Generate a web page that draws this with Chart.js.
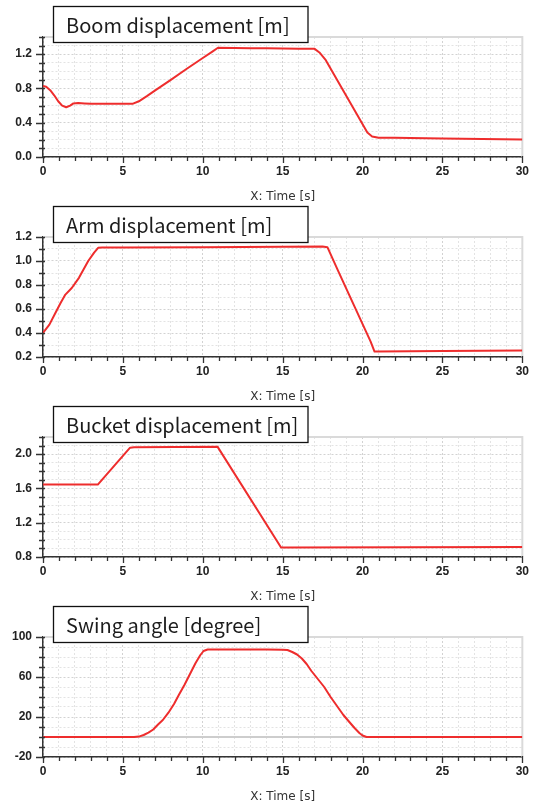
<!DOCTYPE html>
<html><head><meta charset="utf-8">
<script src="https://cdn.jsdelivr.net/npm/chart.js@4.4.1/dist/chart.umd.min.js"></script>
<style>
html,body{margin:0;padding:0;background:#fff;overflow:hidden;width:536px;height:805px;position:relative}
.p{position:absolute;left:0;width:536px;height:210px}
canvas{display:block}
</style></head><body>
<div class="p" style="top:0"><canvas id="c0" width="536" height="210"></canvas></div>
<div class="p" style="top:200px"><canvas id="c1" width="536" height="210"></canvas></div>
<div class="p" style="top:400px"><canvas id="c2" width="536" height="210"></canvas></div>
<div class="p" style="top:600px"><canvas id="c3" width="536" height="210"></canvas></div>
<script>
// ---- data ----
const panelTitles = ["Boom displacement [m]", "Arm displacement [m]", "Bucket displacement [m]", "Swing angle [degree]"];
const xAxisTitle = "X: Time [s]";

const boomTime  = [0, 0.2, 0.45, 0.7, 0.95, 1.2, 1.45, 1.7, 1.9, 2.2, 2.6, 3, 4, 5, 5.6, 6.0, 6.5, 7, 8, 9, 10, 10.6, 10.95, 12, 13, 14, 15, 16, 17, 17.3, 17.7, 18.5, 19.5, 20.3, 20.6, 21, 22, 25, 30];
const boomValue = [0.83, 0.82, 0.78, 0.72, 0.65, 0.60, 0.58, 0.60, 0.625, 0.63, 0.625, 0.62, 0.62, 0.62, 0.62, 0.65, 0.71, 0.774, 0.90, 1.03, 1.155, 1.23, 1.275, 1.272, 1.27, 1.268, 1.266, 1.264, 1.262, 1.22, 1.13, 0.87, 0.545, 0.285, 0.24, 0.225, 0.224, 0.215, 0.205];

const armTime  = [0, 0.4, 0.75, 1.1, 1.4, 1.8, 2.25, 2.83, 3.2, 3.45, 3.7, 5, 10, 15, 17.5, 17.8, 18.5, 19.5, 20.5, 20.75, 21, 25, 30];
const armValue = [0.40, 0.47, 0.56, 0.65, 0.72, 0.775, 0.86, 1.0, 1.07, 1.11, 1.112, 1.112, 1.114, 1.118, 1.12, 1.115, 0.91, 0.62, 0.33, 0.245, 0.245, 0.25, 0.255];

const bucketTime  = [0, 3.43, 5.45, 5.7, 10.93, 14.9, 15.2, 30];
const bucketValue = [1.645, 1.645, 2.075, 2.08, 2.085, 0.91, 0.91, 0.918];

const swingTime  = [0, 5, 5.7, 6.0, 6.3, 6.6, 6.9, 7.2, 7.5, 7.85, 8.2, 8.5, 8.85, 9.2, 9.55, 9.85, 10.05, 10.3, 12, 14, 15, 15.3, 15.6, 15.9, 16.2, 16.5, 16.8, 17.2, 17.6, 18.0, 18.4, 18.8, 19.2, 19.5, 19.8, 20.0, 20.25, 25, 30];
const swingValue = [0, 0, 0, 0.4, 2, 4.3, 7.5, 12.5, 17, 24.3, 33, 42, 52, 63, 74, 82, 86, 87.5, 87.5, 87.5, 87.3, 87, 85, 82.5, 78.5, 73, 66, 58, 50, 40, 31, 22, 14.5, 9, 4, 1.5, 0, 0, 0];

// axis definitions: [min, max, minor step, label step, decimals]
const yAxes = [
  [0, 1.4, 0.1, 0.4, 1],
  [0.2, 1.2, 0.1, 0.2, 1],
  [0.8, 2.2, 0.1, 0.4, 1],
  [-20, 100, 10, 40, 0]
];
const xAxis = [0, 30, 1, 5];

const series = [[boomTime, boomValue], [armTime, armValue], [bucketTime, bucketValue], [swingTime, swingValue]];

// ---- rendering ----
const LINE_RED = 'rgb(238,45,45)';
const TICK_FONT = {family: '"Liberation Sans", Arial, sans-serif', size: 12, weight: 'bold'};

function isMajor(v, min, step) {
  const r = (v - min) / step;
  return Math.abs(r - Math.round(r)) < 1e-6;
}

const deco = {
  id: 'deco',
  beforeDatasetsDraw(chart, args, opts) {
    const {ctx, chartArea: a, scales: {y}} = chart;
    ctx.save();
    if (opts.zero) {
      const py = y.getPixelForValue(0);
      ctx.strokeStyle = '#cdcdcd'; ctx.lineWidth = 2;
      ctx.beginPath(); ctx.moveTo(a.left, py); ctx.lineTo(a.right, py); ctx.stroke();
    }
    ctx.strokeStyle = '#dadada'; ctx.lineWidth = 2;
    ctx.beginPath();
    ctx.moveTo(a.left, a.top); ctx.lineTo(a.right, a.top); ctx.lineTo(a.right, a.bottom);
    ctx.stroke();
    ctx.restore();
  },
  afterDraw(chart, args, opts) {
    const {ctx, chartArea: a, scales: {x, y}} = chart;
    ctx.save();
    ctx.strokeStyle = '#333'; ctx.lineWidth = 1.3;
    ctx.beginPath();
    y.ticks.forEach(t => {
      const py = Math.round(y.getPixelForValue(t.value)) + 0.5;
      const major = isMajor(t.value, opts.ymin, opts.ylab);
      ctx.moveTo(a.left - (major ? 7 : 4), py); ctx.lineTo(a.left + 2, py);
    });
    x.ticks.forEach(t => {
      const px = Math.round(x.getPixelForValue(t.value)) + 0.5;
      const major = isMajor(t.value, xAxis[0], xAxis[3]);
      ctx.moveTo(px, a.bottom - 1); ctx.lineTo(px, a.bottom + (major ? 6 : 4));
    });
    ctx.stroke();
    // title box
    ctx.fillStyle = '#fff';
    ctx.fillRect(53.5, 6.5, 254.5, 36);
    ctx.strokeStyle = '#111'; ctx.lineWidth = 1.3;
    ctx.strokeRect(53.5, 6.5, 254.5, 36);
    ctx.fillStyle = '#1c1c1c';
    ctx.font = '20px "Noto Sans CJK KR", "Noto Sans", sans-serif';
    ctx.textBaseline = 'alphabetic';
    ctx.textAlign = 'left';
    ctx.fillText(opts.title, 66, 33);
    ctx.restore();
  }
};

series.forEach((s, i) => {
  const [ymin, ymax, ystep, ylab, dec] = yAxes[i];
  const data = s[0].map((t, k) => ({x: t, y: s[1][k]}));
  new Chart(document.getElementById('c' + i), {
    type: 'line',
    data: {datasets: [{data, borderColor: LINE_RED, borderWidth: 2, pointRadius: 0,
      tension: 0, borderJoinStyle: 'round', fill: false}]},
    options: {
      responsive: false, animation: false, events: [],
      layout: {padding: {top: 37, right: 13, bottom: 7, left: 0}},
      plugins: {legend: {display: false}, tooltip: {enabled: false},
        deco: {title: panelTitles[i], zero: i === 3, ymin, ylab}},
      scales: {
        x: {
          type: 'linear', min: xAxis[0], max: xAxis[1],
          afterFit(sc) { sc.height = 46; },
          ticks: {stepSize: xAxis[2], autoSkip: false, maxRotation: 0, padding: 7,
            color: '#222', font: TICK_FONT,
            callback: v => isMajor(v, xAxis[0], xAxis[3]) ? String(Math.round(v)) : ''},
          grid: {drawTicks: false,
            color: c => isMajor(c.tick.value, xAxis[0], xAxis[3]) ? '#d2d2d2' : '#e3e3e3', lineWidth: 1},
          border: {color: '#333', width: 1.5, dash: [2, 2]},
          title: {display: true, text: xAxisTitle, color: '#333',
            font: {family: '"DejaVu Sans", sans-serif', size: 12, lineHeight: 1}, padding: {top: 0, bottom: 0}}
        },
        y: {
          min: ymin, max: ymax,
          afterFit(sc) { sc.width = 43; },
          ticks: {stepSize: ystep, autoSkip: false, padding: 11, color: '#222', font: TICK_FONT,
            callback: v => isMajor(v, ymin, ylab) ? Number(v).toFixed(dec) : ''},
          grid: {drawTicks: false,
            color: c => isMajor(c.tick.value, ymin, ylab) ? '#d2d2d2' : '#e3e3e3', lineWidth: 1},
          border: {color: '#333', width: 1.5, dash: [2, 2]}
        }
      }
    },
    plugins: [deco]
  });
});
</script>
</body></html>
